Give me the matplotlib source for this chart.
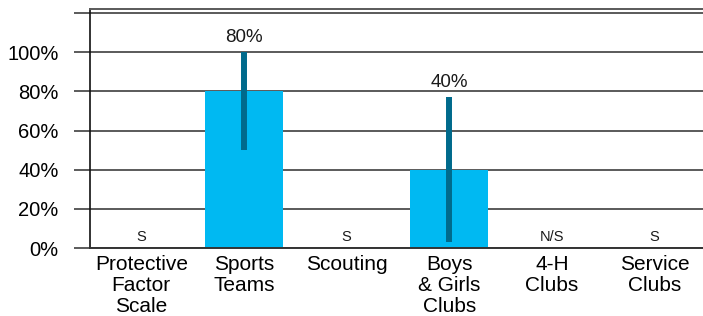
import numpy as np
import matplotlib.pyplot as plt

plt.rcParams['font.family'] = ['Liberation Sans', 'DejaVu Sans']

# chart data
categories = ['Protective\nFactor\nScale', 'Sports\nTeams', 'Scouting',
              'Boys\n& Girls\nClubs', '4-H\nClubs', 'Service\nClubs']
values = [0.0, 0.80, 0.0, 0.40, 0.0, 0.0]
err_low = [None, 0.50, None, 0.03, None, None]
err_high = [None, 1.00, None, 0.77, None, None]
value_labels = ['', '80%', '', '40%', '', '']
notes = ['S', '', 'S', '', 'N/S', 'S']
yticks = [0, 0.2, 0.4, 0.6, 0.8, 1.0, 1.2]
ytick_labels = ['0%', '20%', '40%', '60%', '80%', '100%', '']

bar_color = '#00B9F2'
err_color = '#006A8C'
grid_color = '#5a5a5a'

fig = plt.figure(figsize=(7.03, 3.16), dpi=100)
ax = fig.add_axes([0.128, 0.215, 0.876, 0.757])

x = np.arange(len(categories))
ax.bar(x, values, width=0.76, color=bar_color, zorder=2)

for i in range(len(categories)):
    if err_low[i] is not None:
        ax.vlines(x[i], err_low[i], err_high[i], color=err_color,
                  linewidth=4.3, zorder=3)
        ax.text(x[i], err_high[i] + 0.03, value_labels[i], ha='center',
                va='bottom', fontsize=13.5, color='#1a1a1a')
    if notes[i]:
        ax.text(x[i], 0.02, notes[i], ha='center', va='bottom',
                fontsize=10.5, color='#1a1a1a')

ax.set_xlim(-0.5, len(categories) - 0.5)
ax.set_ylim(0, 1.222)
ax.set_yticks(yticks)
ax.set_yticklabels(ytick_labels, fontsize=14.5)
ax.set_xticks(x)
ax.set_xticklabels(categories, fontsize=15, linespacing=1.12, va='top')

ax.yaxis.grid(True, color=grid_color, linewidth=1.4, zorder=1)
ax.set_axisbelow(True)
ax.tick_params(axis='y', length=11.5, width=1.4, color=grid_color, pad=11)
ax.tick_params(axis='x', length=0, pad=5)

ax.spines['right'].set_visible(False)
ax.spines['left'].set_color('#111111')
ax.spines['left'].set_linewidth(1.2)
ax.spines['bottom'].set_color('#333333')
ax.spines['bottom'].set_linewidth(1.4)
ax.spines['top'].set_color(grid_color)
ax.spines['top'].set_linewidth(1.4)

fig.savefig('out.png', dpi=100)
